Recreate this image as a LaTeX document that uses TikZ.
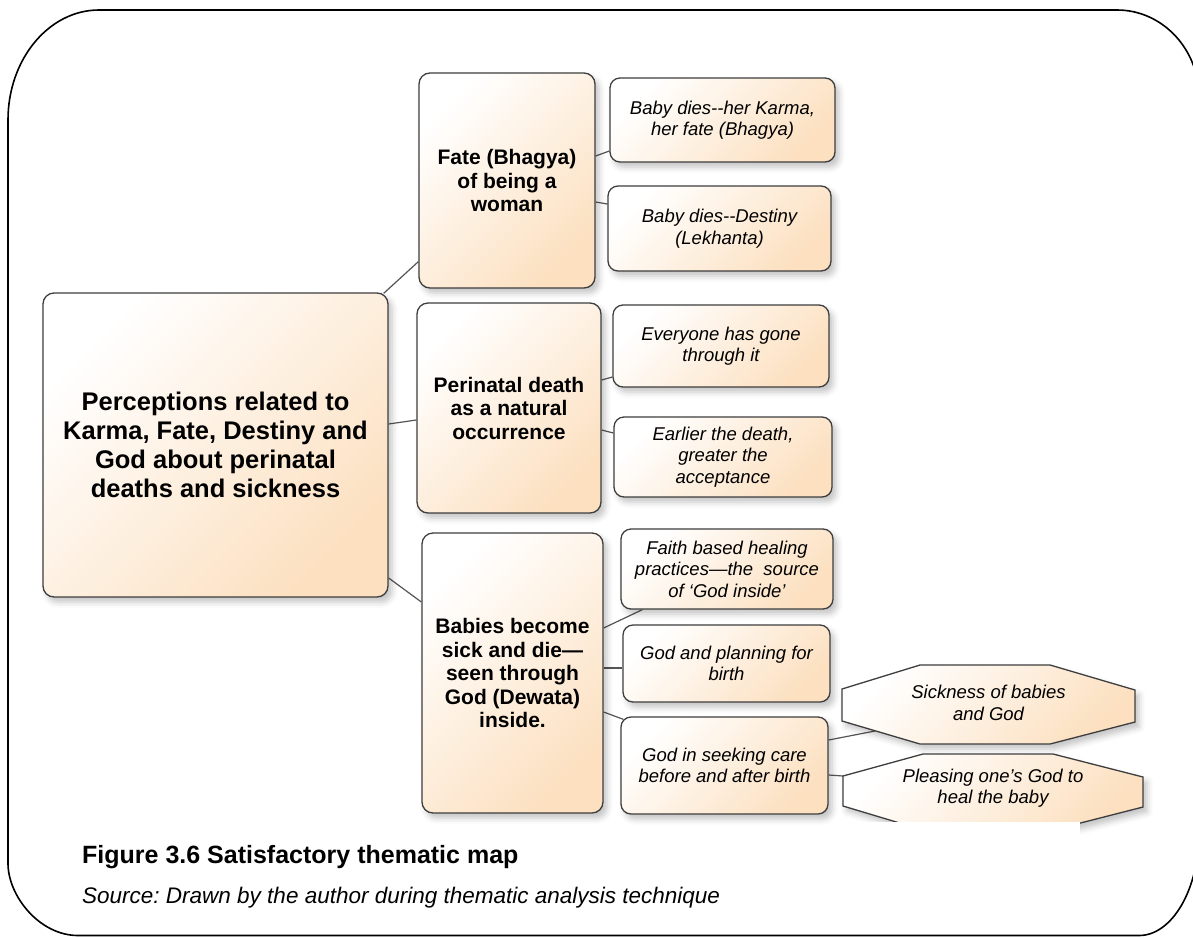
\documentclass[tikz,border=0pt]{standalone}
\usepackage{fontspec}
\setmainfont{Liberation Sans}
\usetikzlibrary{calc,shadows.blur}
\frenchspacing

\definecolor{peach}{RGB}{252,224,192}
\definecolor{edgegray}{RGB}{62,62,62}
\definecolor{linkgray}{RGB}{85,85,85}

\pgfdeclarelayer{links}
\pgfsetlayers{links,main}

\tikzset{
  x=1pt, y=-1pt,
  softshadow/.style={blur shadow={shadow xshift=4pt, shadow yshift=-5pt,
      shadow blur radius=6pt, shadow opacity=24}},
  peachfill/.style={top color=white, bottom color=peach, shading angle=45},
  box/.style={draw=edgegray, line width=1.3pt, rounded corners=11pt,
      peachfill, softshadow, align=center, inner sep=0pt},
  themebox/.style={box, font=\fontsize{25.5}{29}\selectfont\bfseries},
  subbox/.style={box, font=\fontsize{21}{23.5}\selectfont\bfseries},
  leafbox/.style={box, rounded corners=10pt,
      font=\fontsize{18.5}{21.5}\selectfont\itshape},
  octagon/.style={draw=edgegray, line width=1.3pt, peachfill, softshadow},
  octtext/.style={align=center, inner sep=0pt,
      font=\fontsize{18.5}{21.5}\selectfont\itshape},
  link/.style={draw=linkgray, line width=1.2pt},
}

\begin{document}
\begin{tikzpicture}
\useasboundingbox (0,0) rectangle (1193,937);
\clip (0,0) rectangle (1193,937);

% outer rounded frame
\draw[line width=1.6pt]
  (99,10) -- (1117,10) .. controls (1162.3,10) and (1199,49) .. (1199,97)
  -- (1199,832.5) .. controls (1199,889.4) and (1172.1,935.5) .. (1139,935.5)
  -- (78,935.5) .. controls (39.4,935.5) and (8,895.8) .. (8,863.5)
  -- (8,120) .. controls (8,59.3) and (48.8,10) .. (99,10) -- cycle;

% central theme
\node[themebox, minimum width=345pt, minimum height=304pt] (root) at (215.5,445)
  {Perceptions related to\\Karma, Fate, Destiny and\\God about perinatal\\deaths and sickness};

% sub-themes
\node[subbox, minimum width=176pt, minimum height=215pt] (fate) at (507,180.5)
  {Fate (Bhagya)\\of being a\\woman};
\node[subbox, minimum width=184pt, minimum height=210pt] (peri) at (509,408)
  {Perinatal death\\as a natural\\occurrence};
\node[subbox, minimum width=181pt, minimum height=280pt] (babies) at (512.5,673)
  {Babies become\\sick and die—\\seen through\\God (Dewata)\\inside.};

% codes
\node[leafbox, minimum width=225pt, minimum height=84pt] (l1) at (722.5,120)
  {Baby dies-{}-her Karma,\\her fate (Bhagya)};
\node[leafbox, minimum width=223pt, minimum height=85pt] (l2) at (719.5,228.5)
  {Baby dies-{}-Destiny\\(Lekhanta)};
\node[leafbox, minimum width=216pt, minimum height=82pt] (l3) at (721,346)
  {Everyone has gone\\through it};
\node[leafbox, minimum width=218pt, minimum height=80pt] (l4) at (723,457)
  {Earlier the death,\\greater the\\acceptance};
\node[leafbox, minimum width=212pt, minimum height=80pt] (l5) at (727,569)
  {Faith based healing\\practices—the\ \ source\\of ‘God inside’};
\node[leafbox, minimum width=207pt, minimum height=77pt] (l6) at (726.5,663.5)
  {God and planning for\\birth};
\node[leafbox, minimum width=207pt, minimum height=97pt] (l7) at (724.5,765.5)
  {God in seeking care\\before and after birth};

% octagonal sub-codes
\path[octagon] (842,689) -- (920,665) -- (1050,665) -- (1135,690)
  -- (1135,722) -- (1050,744) -- (920,744) -- (842,721) -- cycle;
\node[octtext] (oct1) at (988.5,703) {Sickness of babies\\and God};
\path[octagon] (843,776) -- (923,754) -- (1053,754) -- (1143,777)
  -- (1143,807) -- (1053,830) -- (923,830) -- (843,806) -- cycle;
\node[octtext] (oct2) at (993,788) {Pleasing one’s God to\\heal the baby};
\coordinate (oct1port) at (875,731);
\coordinate (oct2port) at (843,776);

% lower part of the last octagon is masked
\fill[white] (836,822) rectangle (1080,870);

% connectors
\begin{pgfonlayer}{links}
\draw[link] ($(root.north east)+(-5,1)$) -- ($(fate.south west)+(0,-27)$);
\draw[link] ($(root.east)+(0,-21)$) -- ($(peri.west)+(0,12)$);
\draw[link] ($(root.east)+(0,133)$) -- ($(babies.west)+(0,-71)$);
\draw[link] ($(fate.east)+(0,-24.5)$) -- ($(l1.west)+(0,31)$);
\draw[link] ($(fate.east)+(0,21.5)$) -- ($(l2.west)+(0,-24.5)$);
\draw[link] ($(peri.east)+(0,-28)$) -- ($(l3.west)+(0,31)$);
\draw[link] ($(peri.east)+(0,22)$) -- ($(l4.west)+(0,-24)$);
\draw[link] ($(babies.east)+(0,-45)$) -- ($(l5.south west)+(22,0)$);
\draw[link] ($(babies.east)+(0,-5)$) -- ($(l6.west)+(0,4.5)$);
\draw[link] ($(babies.east)+(0,39)$) -- ($(l7.north west)+(3,3)$);
\draw[link] ($(l7.east)+(0,-25.5)$) -- (oct1port);
\draw[link] ($(l7.east)+(0,9.5)$) -- (oct2port);
\end{pgfonlayer}

% caption
\node[anchor=base west, inner sep=0pt, font=\fontsize{25}{29}\selectfont\bfseries]
  (caption) at (82,863) {Figure 3.6 Satisfactory thematic map};
\node[anchor=base west, inner sep=0pt, font=\fontsize{22.5}{26}\selectfont\itshape]
  (source) at (82,903) {Source: Drawn by the author during thematic analysis technique};
\end{tikzpicture}
\end{document}
